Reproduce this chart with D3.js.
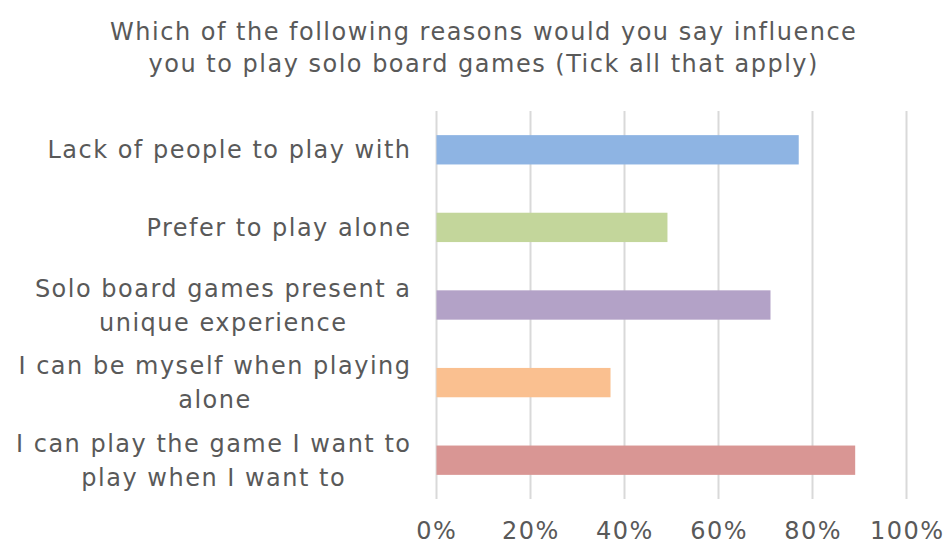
<!DOCTYPE html>
<html>
<head>
<meta charset="utf-8">
<script src="https://cdn.jsdelivr.net/npm/d3@7"></script>
<style>
body { margin: 0; background: #fff; }
text { font-family: "DejaVu Sans", Verdana, sans-serif; fill: #595959; }
</style>
</head>
<body>
<script>
var width = 950, height = 546;

var titleLines = ["Which of the following reasons would you say influence",
                  "you to play solo board games (Tick all that apply)"];

var categories = [
    ["Lack of people to play with"],
    ["Prefer to play alone"],
    ["Solo board games present a", "unique experience"],
    ["I can be myself when playing", "alone"],
    ["I can play the game I want to", "play when I want to"]
];
var values = [0.772, 0.493, 0.712, 0.372, 0.892];
var colors = ["#8EB4E3", "#C3D69B", "#B3A2C7", "#FAC090", "#D99694"];
var ticks = [0, 0.2, 0.4, 0.6, 0.8, 1.0];

var margin = { top: 111, left: 435.5, right: 44, bottom: 47 };
var spacing = 1.5;   // letter spacing to get verdana-ish width

var svg = d3.select("body").append("svg")
    .attr("width", width)
    .attr("height", height);

var x = d3.scaleLinear().domain([0, 1]).range([margin.left, width - margin.right]);
var y = d3.scaleBand()
    .domain(d3.range(categories.length))
    .range([margin.top, height - margin.bottom])
    .paddingInner(0.622)
    .paddingOuter(0.311);

// title
svg.append("g").selectAll("text")
    .data(titleLines)
    .enter().append("text")
    .attr("x", 483 + spacing / 2)
    .attr("y", function(d, i) { return 40 + i * 32; })
    .attr("text-anchor", "middle")
    .style("font-size", "24px")
    .style("letter-spacing", spacing + "px")
    .text(function(d) { return d; });

// gridlines
svg.append("g").selectAll("line")
    .data(ticks)
    .enter().append("line")
    .attr("x1", function(d) { return Math.round(x(d)) + 0.5; })
    .attr("x2", function(d) { return Math.round(x(d)) + 0.5; })
    .attr("y1", margin.top)
    .attr("y2", height - margin.bottom)
    .attr("stroke", "#D9D9D9")
    .attr("stroke-width", 2);

// bars
svg.append("g").selectAll("rect")
    .data(values)
    .enter().append("rect")
    .attr("x", x(0) + 1)
    .attr("y", function(d, i) { return y(i); })
    .attr("width", function(d) { return x(d) - x(0) - 1; })
    .attr("height", y.bandwidth())
    .attr("fill", function(d, i) { return colors[i]; });

// x axis labels
var xAxis = d3.axisBottom(x)
    .tickValues(ticks)
    .tickFormat(d3.format(".0%"))
    .tickSize(0)
    .tickPadding(0);
var ax = svg.append("g")
    .attr("transform", "translate(" + (spacing / 2) + "," + (height - 7) + ")")
    .call(xAxis);
ax.select(".domain").remove();
ax.selectAll("text")
    .attr("dy", null)
    .attr("y", 0)
    .style("font-size", "24px")
    .style("letter-spacing", spacing + "px")
    .style("fill", "#595959")
    .style("font-family", "'DejaVu Sans', sans-serif");

// category labels, multi-line centred on each other, right edge at 410
var lineH = 34;
var lab = svg.append("g").selectAll("g")
    .data(categories)
    .enter().append("g");
lab.each(function(lines, i) {
    var g = d3.select(this);
    var cy = y(i) + y.bandwidth() / 2;
    var ts = g.selectAll("text")
        .data(lines)
        .enter().append("text")
        .attr("text-anchor", "middle")
        .attr("y", function(d, j) { return cy + (j - (lines.length - 1) / 2) * lineH + 8.5; })
        .style("font-size", "24px")
        .style("letter-spacing", spacing + "px")
        .text(function(d) { return d; });
    var maxW = 0;
    ts.each(function() { maxW = Math.max(maxW, this.getComputedTextLength()); });
    ts.attr("x", 410 + spacing - maxW / 2);
});
</script>
</body>
</html>
